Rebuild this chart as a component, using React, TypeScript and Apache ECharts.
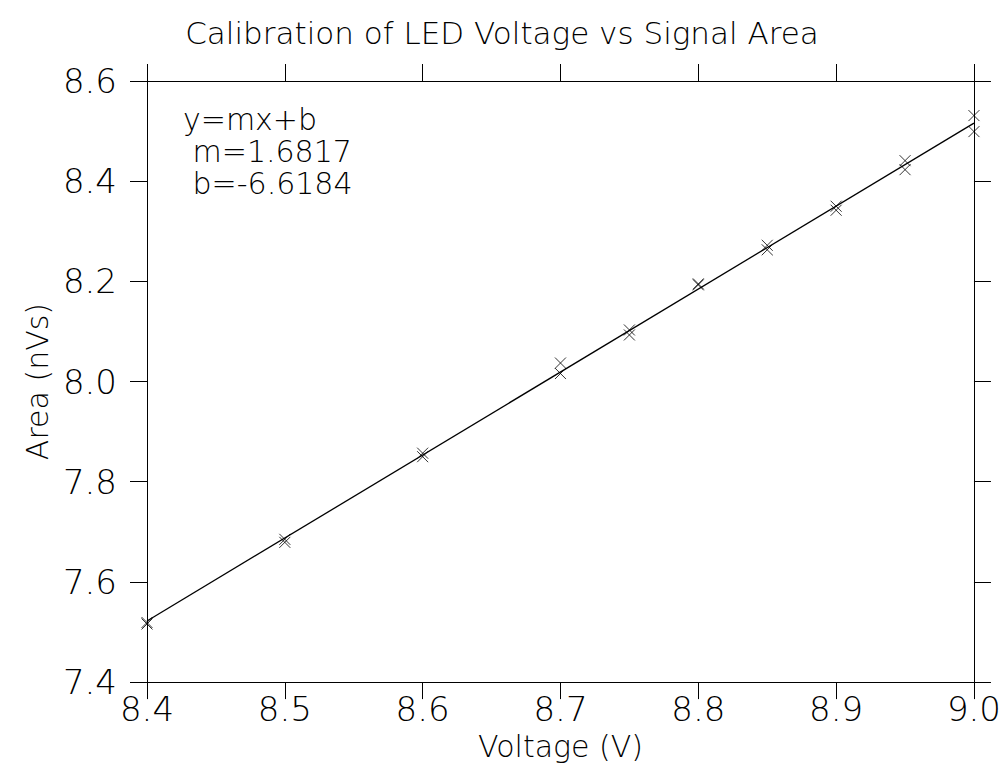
import React, { useEffect, useRef } from "react";
import * as echarts from "echarts";

const voltage = [8.4, 8.4, 8.5, 8.5, 8.6, 8.6, 8.7, 8.7, 8.75, 8.75, 8.8, 8.8, 8.85, 8.85, 8.9, 8.9, 8.95, 8.95, 9.0, 9.0];
const area = [7.519, 7.516, 7.685, 7.679, 7.857, 7.850, 8.037, 8.016, 8.103, 8.093, 8.195, 8.193, 8.272, 8.263, 8.350, 8.342, 8.441, 8.423, 8.531, 8.499];
const fitX = [8.4, 9.0];
const fitY = [7.522, 8.516];
const xTicks = { min: 8.4, max: 9.0, interval: 0.1 };
const yTicks = { min: 7.4, max: 8.6, interval: 0.2 };
const titleText = "Calibration of LED Voltage vs Signal Area";
const xName = "Voltage (V)";
const yName = "Area (nVs)";
const annotation = ["y=mx+b", " m=1.6817", " b=-6.6184"];

const FONT = "DejaVu Sans";

export default function App() {
  const ref = useRef<HTMLDivElement>(null);
  useEffect(() => {
    if (!ref.current) return;
    const chart = echarts.init(ref.current, undefined, { renderer: "svg" });
    const tickStyle = { show: true, inside: false, length: 17, lineStyle: { color: "#000", width: 1 } };
    const lbl = { fontFamily: FONT, fontWeight: 200, fontSize: 34, color: "#000" };
    chart.setOption({
      animation: false,
      backgroundColor: "#fff",
      title: {
        text: titleText,
        left: "center",
        top: 12,
        textStyle: { fontFamily: FONT, fontWeight: 200, fontSize: 31, color: "#000" },
      },
      grid: { left: 147, top: 81, right: 22, bottom: 81, containLabel: false },
      xAxis: [
        {
          type: "value",
          ...xTicks,
          position: "bottom",
          name: xName,
          nameLocation: "middle",
          nameGap: 48,
          nameTextStyle: { ...lbl, fontSize: 30 },
          axisLine: { show: true, onZero: false, lineStyle: { color: "#000", width: 1 } },
          axisTick: tickStyle,
          axisLabel: { ...lbl, margin: 10, formatter: (v: number) => v.toFixed(1) },
          splitLine: { show: false },
        },
        {
          type: "value",
          ...xTicks,
          position: "top",
          axisLine: { show: true, onZero: false, lineStyle: { color: "#000", width: 1 } },
          axisTick: tickStyle,
          axisLabel: { show: false },
          splitLine: { show: false },
        },
      ],
      yAxis: [
        {
          type: "value",
          ...yTicks,
          position: "left",
          name: yName,
          nameLocation: "middle",
          nameGap: 93,
          nameRotate: 90,
          nameTextStyle: { ...lbl, fontSize: 30 },
          axisLine: { show: true, onZero: false, lineStyle: { color: "#000", width: 1 } },
          axisTick: tickStyle,
          axisLabel: { ...lbl, margin: 30, formatter: (v: number) => v.toFixed(1) },
          splitLine: { show: false },
        },
        {
          type: "value",
          ...yTicks,
          position: "right",
          axisLine: { show: true, onZero: false, lineStyle: { color: "#000", width: 1 } },
          axisTick: tickStyle,
          axisLabel: { show: false },
          splitLine: { show: false },
        },
      ],
      graphic: annotation.map((t, i) => ({
        type: "text",
        left: 183,
        top: 104 + i * 32,
        style: { text: t, fontFamily: FONT, fontWeight: 200, fontSize: 30, fill: "#000" },
      })),
      series: [
        {
          type: "line",
          data: fitX.map((x, i) => [x, fitY[i]]),
          symbol: "none",
          lineStyle: { color: "#000", width: 1.3 },
          silent: true,
        },
        {
          type: "scatter",
          data: voltage.map((x, i) => [x, area[i]]),
          symbol: "path://M0,0L10,10M10,0L0,10",
          symbolSize: 11,
          itemStyle: { color: "transparent", borderColor: "#000", borderWidth: 1 },
        },
      ],
    });
    return () => chart.dispose();
  }, []);
  return (
    <div
      ref={ref}
      style={{ position: "absolute", left: 0, top: 0, width: 1004, height: 766 }}
    />
  );
}
